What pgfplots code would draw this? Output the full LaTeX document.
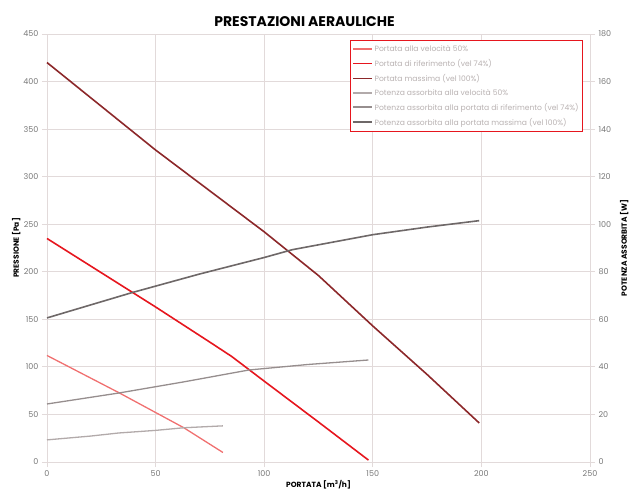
\documentclass[border=0pt]{standalone}
\usepackage{fontspec}
\setmainfont{Poppins}
\usepackage{pgfplots}
\pgfplotsset{compat=1.18}
\usetikzlibrary{calc}

\definecolor{pLow}{RGB}{240,112,112}
\definecolor{pRef}{RGB}{230,22,30}
\definecolor{pMax}{RGB}{140,40,42}
\definecolor{wLow}{RGB}{178,170,170}
\definecolor{wRef}{RGB}{150,142,142}
\definecolor{wMax}{RGB}{110,104,104}
\definecolor{gridc}{RGB}{226,218,218}
\definecolor{tickc}{RGB}{120,120,120}
\definecolor{legc}{RGB}{185,178,178}

\begin{document}
\begin{tikzpicture}
\pgfplotsset{
  base/.style={
    scale only axis, width=543pt, height=428pt,
    xmin=0, xmax=250,
    /pgf/number format/assume math mode=true,
    tick label style={font=\fontsize{8}{9}\selectfont, text=tickc},
    label style={font=\bfseries\fontsize{7.5}{9}\selectfont},
    axis line style={gridc, line width=0.8pt},
    tick style={gridc, line width=0.8pt},
    tick align=outside, major tick length=5pt,
    clip=false,
  }
}
\begin{axis}[base, name=main,
  ymin=0, ymax=450,
  xtick={0,50,...,250}, ytick={0,50,...,450},
  grid=major, grid style={gridc, line width=0.8pt},
  axis y line*=left, axis x line*=bottom,
  ylabel={PRESSIONE [Pa]},
  xlabel={PORTATA [m\textsuperscript{3}/h]},
  ylabel style={yshift=-4pt},
  xlabel style={yshift=3pt},
  title={PRESTAZIONI AERAULICHE},
  title style={font=\bfseries\fontsize{14}{15}\selectfont, yshift=-2pt, xshift=-14pt},
]
\addplot[pRef, line width=1.6pt] coordinates {
  (0,235) (25,199) (50,163) (75,126) (85,111) (100,85) (125,42) (148,2)};
\addplot[pLow, line width=1.3pt] coordinates {
  (0,112) (33,73) (63,36) (81,10)};
\addplot[pMax, line width=1.6pt] coordinates {
  (0,420) (25,374) (50,328) (75,285) (100,242) (125,196) (150,143) (175,92) (199,41)};
\draw[gridc, line width=0.8pt] (rel axis cs:0,1) -- (rel axis cs:1,1);
\end{axis}
\begin{axis}[base,
  ymin=0, ymax=180, ytick={0,20,...,180},
  axis y line*=right, axis x line=none,
  ylabel={POTENZA ASSORBITA [W]},
  ylabel style={yshift=-2pt},
  legend cell align=left,
  legend style={at={(0.987,0.986)}, anchor=north east,
    draw=pRef, line width=0.8pt,
    font=\fontsize{7.6}{8}\selectfont, text=legc,
    row sep=2.4pt, inner ysep=3pt, inner xsep=2pt},
  legend image code/.code={\draw[#1, line width=1.8pt] (0cm,0cm) -- (0.65cm,0cm);},
]
\addlegendimage{pLow}
\addlegendentry{Portata alla velocità 50\%}
\addlegendimage{pRef}
\addlegendentry{Portata di riferimento (vel 74\%)}
\addlegendimage{pMax}
\addlegendentry{Portata massima (vel 100\%)}
\addplot[wLow, line width=1.3pt] coordinates {
  (0,9.3) (20,10.9) (33,12.2) (50,13.3) (63,14.4) (81,15.2)};
\addlegendentry{Potenza assorbita alla velocità 50\%}
\addplot[wRef, line width=1.3pt] coordinates {
  (0,24.4) (33,29) (63,33.7) (93,38.7) (120,41) (148,42.9)};
\addlegendentry{Potenza assorbita alla portata di riferimento (vel 74\%)}
\addplot[wMax, line width=1.6pt] coordinates {
  (0,60.6) (39,71.2) (70,79) (100,86) (113,89.3) (150,95.6) (175,98.8) (199,101.5)};
\addlegendentry{Potenza assorbita alla portata massima (vel 100\%)}
\end{axis}
\pgfresetboundingbox
\path[use as bounding box] ($(main.south west)+(-47pt,-42pt)$) rectangle ($(main.north east)+(40pt,34pt)$);
\end{tikzpicture}
\end{document}
